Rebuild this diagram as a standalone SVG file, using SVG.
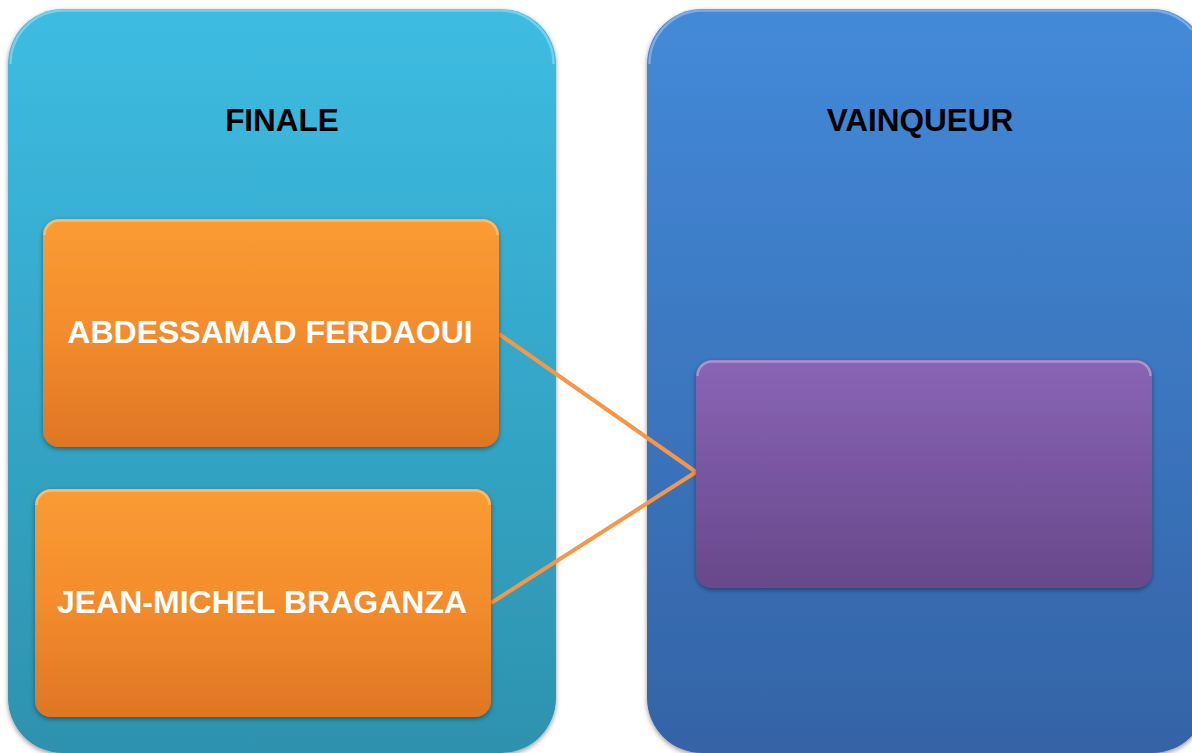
<svg xmlns="http://www.w3.org/2000/svg" width="1192" height="753" viewBox="0 0 1192 753">
<defs>
<linearGradient id="gLeft" x1="0" y1="0" x2="0" y2="1"><stop offset="0" stop-color="#3DBCE2"/><stop offset="1" stop-color="#2D92AE"/></linearGradient>
<linearGradient id="gRight" x1="0" y1="0" x2="0" y2="1"><stop offset="0" stop-color="#438AD9"/><stop offset="1" stop-color="#3463A6"/></linearGradient>
<linearGradient id="gOrange" x1="0" y1="0" x2="0" y2="1"><stop offset="0" stop-color="#FA9C32"/><stop offset="0.5" stop-color="#F38C2D"/><stop offset="1" stop-color="#DE7624"/></linearGradient>
<linearGradient id="gPurple" x1="0" y1="0" x2="0" y2="1"><stop offset="0" stop-color="#8A64B6"/><stop offset="1" stop-color="#68488A"/></linearGradient>
<filter id="sh" x="-5%" y="-5%" width="110%" height="110%"><feDropShadow dx="0" dy="2" stdDeviation="2.5" flood-color="#000" flood-opacity="0.4"/></filter>
</defs>
<style>
.title{font-family:"Liberation Sans",Arial,sans-serif;font-weight:bold;font-size:31.5px;fill:#000;text-anchor:middle}
.lbl{font-family:"Liberation Sans",Arial,sans-serif;font-weight:bold;font-size:32px;fill:#fff;text-anchor:middle}
.hl{fill:none;stroke:#fff;stroke-opacity:0.3;stroke-width:2.5}
.conn{stroke:#F79646;stroke-width:4;fill:none}
</style>
<rect width="1192" height="753" fill="#fff"/>
<g id="panel-finale">
<rect x="8" y="9" width="548" height="744" rx="55" fill="url(#gLeft)" filter="url(#sh)"/>
<path class="hl" d="M10.5,64 A53.5,53.5 0 0 1 64,10.5 L500,10.5 A53.5,53.5 0 0 1 553.5,64"/>
<text class="title" x="282" y="131">FINALE</text>
</g>
<g id="panel-vainqueur">
<rect x="647" y="9" width="560" height="744" rx="55" fill="url(#gRight)" filter="url(#sh)"/>
<path class="hl" d="M649.5,64 A53.5,53.5 0 0 1 703,10.5 L1151,10.5 A53.5,53.5 0 0 1 1192,30"/>
<text class="title" x="920" y="131">VAINQUEUR</text>
</g>
<g id="connectors">
<line class="conn" x1="499" y1="334" x2="696" y2="472"/>
<line class="conn" x1="491" y1="603" x2="696" y2="472"/>
</g>
<g id="node-ferdaoui">
<rect x="43" y="219" width="456" height="228" rx="16" fill="url(#gOrange)" filter="url(#sh)"/>
<path class="hl" d="M44.5,235 A14.5,14.5 0 0 1 59,220.5 L483,220.5 A14.5,14.5 0 0 1 497.5,235"/>
<text class="lbl" x="270" y="343">ABDESSAMAD FERDAOUI</text>
</g>
<g id="node-braganza">
<rect x="35" y="489" width="456" height="228" rx="16" fill="url(#gOrange)" filter="url(#sh)"/>
<path class="hl" d="M36.5,505 A14.5,14.5 0 0 1 51,490.5 L475,490.5 A14.5,14.5 0 0 1 489.5,505"/>
<text class="lbl" x="262" y="613">JEAN-MICHEL BRAGANZA</text>
</g>
<g id="node-winner">
<rect x="696" y="360" width="456" height="228" rx="16" fill="url(#gPurple)" filter="url(#sh)"/>
<path class="hl" d="M697.5,376 A14.5,14.5 0 0 1 712,361.5 L1136,361.5 A14.5,14.5 0 0 1 1150.5,376"/>
</g>
</svg>
